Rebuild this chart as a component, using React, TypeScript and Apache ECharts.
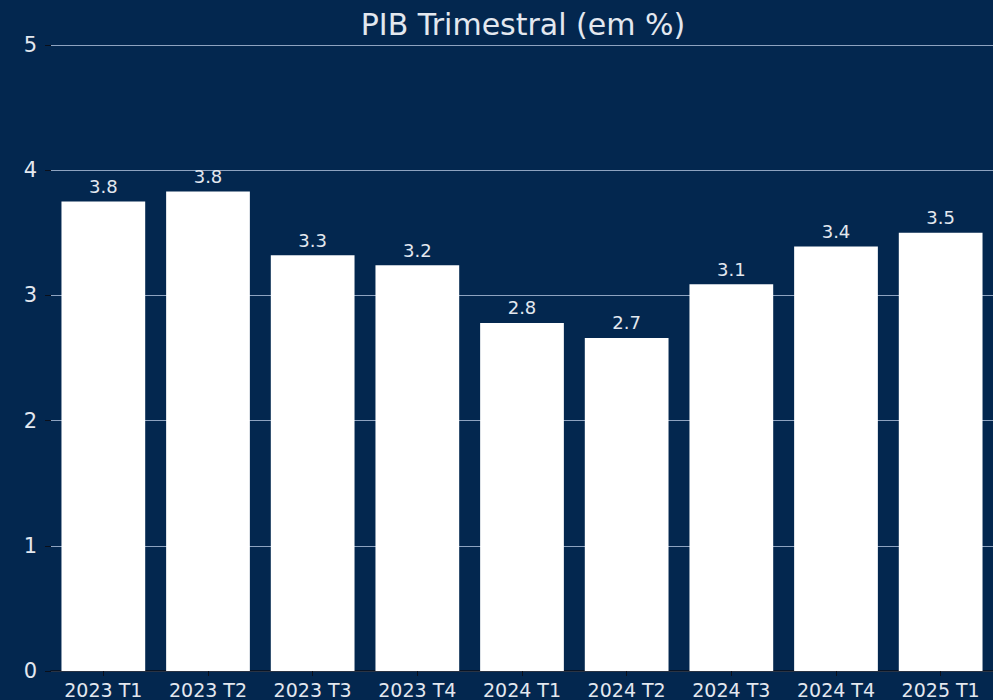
import React, { useEffect, useRef } from "react";
import * as echarts from "echarts";

const categories = ["2023 T1", "2023 T2", "2023 T3", "2023 T4", "2024 T1", "2024 T2", "2024 T3", "2024 T4", "2025 T1"];
const values = [3.75, 3.83, 3.32, 3.24, 2.78, 2.66, 3.09, 3.39, 3.5];
const yTicks = [0, 1, 2, 3, 4, 5];
const titleText = "PIB Trimestral (em %)";

const BG = "#03274F";
const TEXT = "#e3e8ef";
const FONT = "DejaVu Sans";

export default function App() {
  const ref = useRef<HTMLDivElement>(null);
  useEffect(() => {
    if (!ref.current) return;
    const chart = echarts.init(ref.current, undefined, { renderer: "svg" });
    chart.setOption({
      animation: false,
      backgroundColor: BG,
      title: {
        text: titleText,
        left: 518,
        textAlign: "center",
        top: 4,
        textStyle: { color: TEXT, fontFamily: FONT, fontSize: 30, fontWeight: "normal" },
      },
      grid: { left: 51, right: 0, top: 45, bottom: 29, containLabel: false },
      xAxis: {
        type: "category",
        data: categories,
        axisLine: { show: true, lineStyle: { color: "#0a0f1a", width: 1.5 } },
        axisTick: { show: true, alignWithLabel: true, length: 5, lineStyle: { color: "#0a0f1a" } },
        axisLabel: { color: TEXT, fontFamily: FONT, fontSize: 19, margin: 9 },
      },
      yAxis: {
        type: "value",
        min: yTicks[0],
        max: yTicks[yTicks.length - 1],
        interval: 1,
        axisLine: { show: false },
        axisTick: { show: true, length: 6, lineStyle: { color: "#0a0f1a" } },
        axisLabel: { color: TEXT, fontFamily: FONT, fontSize: 21, margin: 14 },
        splitLine: { show: true, lineStyle: { color: "#8ea3c0", width: 1 } },
      },
      series: [
        {
          type: "bar",
          data: values,
          barCategoryGap: "20%",
          itemStyle: { color: "#ffffff" },
          label: {
            show: true,
            position: "top",
            distance: 6,
            color: TEXT,
            fontFamily: FONT,
            fontSize: 18,
            formatter: (p: any) => Number(p.value).toFixed(1),
          },
        },
      ],
    });
    return () => chart.dispose();
  }, []);
  return (
    <div
      ref={ref}
      style={{ position: "fixed", left: 0, top: 0, width: 993, height: 700 }}
    />
  );
}
